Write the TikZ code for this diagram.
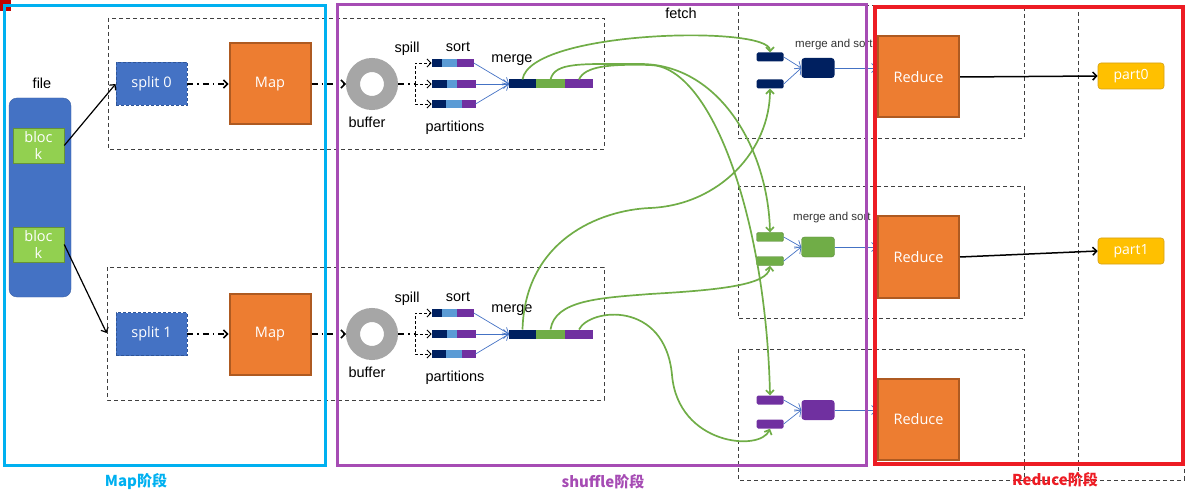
\documentclass[tikz,border=0pt]{standalone}
\usepackage{fontspec}
\setmainfont{Liberation Sans}
\newfontfamily\boxfont{Open Sans}
\newfontfamily\cjkfont{Noto Sans CJK SC}
\usepackage{xcolor}
\usepackage{tikz}
\usetikzlibrary{calc}
\usetikzlibrary{arrows.meta}
\usetikzlibrary{positioning}
\tikzset{>={Straight Barb[length=4pt,width=8pt]}}

\definecolor{navy}{HTML}{002060}
\definecolor{lblue}{HTML}{5B9BD5}
\definecolor{pviolet}{HTML}{7030A0}
\definecolor{pgreen}{HTML}{70AD47}
\definecolor{bgreen}{HTML}{92D050}
\definecolor{fblue}{HTML}{4472C4}
\definecolor{sblue}{HTML}{2F5597}
\definecolor{morange}{HTML}{ED7D31}
\definecolor{medge}{HTML}{AE5A21}
\definecolor{pyellow}{HTML}{FFC000}
\definecolor{yedge}{HTML}{D4A017}
\definecolor{mapcyan}{HTML}{00B0F0}
\definecolor{shufpurple}{HTML}{A64CB4}
\definecolor{redframe}{HTML}{ED1C24}
\definecolor{boxgray}{HTML}{404040}
\definecolor{ringgray}{HTML}{A6A6A6}

\tikzstyle{lbl} = [draw=none, inner sep=0, font=\fontsize{14.5}{16}\selectfont]
\tikzstyle{mslbl} = [draw=none, inner sep=0, anchor=west, text=black!80, font=\fontsize{11.5}{13}\selectfont]
\tikzstyle{task} = [draw=boxgray, line width=0.8pt, dash pattern=on 4pt off 3pt]
\tikzstyle{block} = [rectangle, fill=bgreen, draw=bgreen!70!black, line width=0.5pt, minimum width=51pt, minimum height=35pt, inner sep=0, align=center, text=white, font=\boxfont\fontsize{14.5}{16.5}\selectfont]
\tikzstyle{split} = [rectangle, fill=fblue, draw=sblue, densely dashed, line width=0.8pt, minimum width=71pt, minimum height=43pt, text=white, font=\boxfont\fontsize{14.5}{16}\selectfont]
\tikzstyle{work} = [rectangle, fill=morange, draw=medge, line width=2pt, minimum width=81pt, minimum height=81pt, text=white, font=\boxfont\fontsize{14.5}{16}\selectfont]
\tikzstyle{ring} = [circle, draw=ringgray, line width=14pt, minimum size=38pt, inner sep=0, fill=white]
\tikzstyle{seg} = [rectangle, inner sep=0, outer sep=0, minimum height=8pt, anchor=west]
\tikzstyle{piece} = [rectangle, rounded corners=1.5pt, inner sep=0, minimum width=27pt, minimum height=9pt]
\tikzstyle{sorted} = [rectangle, rounded corners=3pt, inner sep=0, minimum width=33pt, minimum height=20pt]
\tikzstyle{part} = [rectangle, rounded corners=3pt, fill=pyellow, draw=yedge, line width=0.6pt, minimum width=66pt, minimum height=26pt, text=white, font=\boxfont\fontsize{14}{16}\selectfont]
\tikzstyle{dd} = [->, line width=1.5pt, dash pattern=on 6pt off 4pt on 1.5pt off 4pt]
\tikzstyle{spl} = [->, line width=0.8pt, densely dashed]
\tikzstyle{blu} = [-{Straight Barb[length=5pt,width=9pt]}, draw=fblue, line width=0.7pt]
\tikzstyle{fetchln} = [->, draw=pgreen, line width=1.7pt]
\tikzstyle{stage} = [draw=none, inner sep=0, font=\cjkfont\bfseries\fontsize{15}{18}\selectfont]

\begin{document}
\begin{tikzpicture}[x=1pt, y=-1pt]
\useasboundingbox (0,0) rectangle (1194,497);
\fill[red!75!black] (0,0) rectangle (11,11);

% task boxes
\draw[task] (108,18) rectangle (604,149);
\draw[task] (107,267) rectangle (604,400);
\draw[task] (738,5) rectangle (1024,138);
\draw[task] (738,186) rectangle (1024,318);
\draw[task] (738,349) rectangle (1024,480);
\draw[task] (1078,5) rectangle (1184,480);
\draw[task] (1024,480) -- (1078,480);

% input file
\node [lbl] (file) at (42,83) {file};
\node [rectangle, rounded corners=8pt, fill=fblue, draw=fblue!85!black, minimum width=62pt, minimum height=199pt] (F) at (40,197.5) {};
\node [block] (b0) at (38.5,145.5) {bloc\\k};
\node [block] (b1) at (38.5,244.5) {bloc\\k};

% the two map tasks
\foreach \i in {0,1} {
  \pgfmathsetmacro{\y}{84+250*\i}
  \node [split] (split\i) at (151.5,\y) {split \i};
  \node [work] (map\i) at (270,\y) {Map};
  \node [ring] (buf\i) at (372,\y) {};
  \coordinate (sp\i) at (415,\y);
  \node [lbl] at (367,\y+38) {buffer};
  \node [lbl] at (407,\y-35) {spill};
  \node [lbl] at (458,\y-37) {sort};
  \node [lbl] at (512,\y-24) {merge};
  \node [lbl] at (455,\y+44) {partitions};
  \node [seg, fill=navy, minimum width=27, minimum height=9] (mn\i) at (509,\y) {};
  \node [seg, fill=pgreen, minimum width=29, minimum height=9, right=0pt of mn\i] (mg\i) {};
  \node [seg, fill=pviolet, minimum width=28, minimum height=9, right=0pt of mg\i] (mp\i) {};
  \draw [dd] (split\i.east) -- (map\i.west);
  \draw [dd] (map\i.east) -- (buf\i.west);
  \draw [dd, -] (buf\i.east) -- (sp\i);
  \foreach \k/\dy/\wa/\wb/\wc in {a/-21/10/15.3/17, b/0/15/10.6/18.4, c/20/14.3/16/13.7} {
    \node [seg, fill=navy, minimum width=\wa] (n\i\k) at (431.5,\y+\dy) {};
    \node [seg, fill=lblue, minimum width=\wb, right=0pt of n\i\k] (l\i\k) {};
    \node [seg, fill=pviolet, minimum width=\wc, right=0pt of l\i\k] (q\i\k) {};
    \draw [spl] (sp\i) |- (n\i\k.west);
    \draw [blu] (q\i\k.east) -- (mn\i.west);
  }
}
\draw [->, line width=1.2pt] (b0.east) -- (split0.west);
\draw [->, line width=1.2pt] (b1.east) -- ($(split1.west)+(-9,-1)$);

% reduce tasks
\node [piece, fill=navy] (r1a) at (770,57) {};
\node [piece, fill=navy] (r1b) at (770,84) {};
\node [sorted, fill=navy] (r1m) at (818,68) {};
\node [work] (red1) at (918.5,77) {Reduce};
\node [mslbl] at (795,45) {merge and sort};
\node [piece, fill=pgreen, draw=pgreen!80!black] (r2a) at (770,237) {};
\node [piece, fill=pgreen, draw=pgreen!80!black] (r2b) at (770,261) {};
\node [sorted, fill=pgreen, draw=pgreen!80!black] (r2m) at (818,247) {};
\node [work] (red2) at (918.5,257) {Reduce};
\node [mslbl] at (793,218) {merge and sort};
\node [piece, fill=pviolet] (r3a) at (770,400) {};
\node [piece, fill=pviolet] (r3b) at (770,424) {};
\node [sorted, fill=pviolet] (r3m) at (818,410) {};
\node [work] (red3) at (918.5,419.5) {Reduce};
\node [part] (p0) at (1131,76) {part0};
\node [part] (p1) at (1131,251) {part1};

\foreach \r in {1,2,3} {
  \draw [blu] (r\r a.east) -- (r\r m.west);
  \draw [blu] (r\r b.east) -- (r\r m.west);
  \draw [blu] (r\r m.east) -- (r\r m.east -| red\r.west);
}
\draw [->, line width=1.5pt] (red1.east) -- (p0.west);
\draw [->, line width=1.5pt] (red2.east) -- (p1.west);

% fetch
\node [lbl] (fetch) at (681,13) {fetch};
\draw [fetchln] (mn0.north) .. controls (530,30) and (770,25) .. (r1a.north);
\draw [fetchln] (mg0.north) .. controls (555,62) and (580,64) .. (640,64) .. controls (720,64) and (768,150) .. (r2a.north);
\draw [fetchln] (mp0.north) .. controls (585,66) and (610,64) .. (650,65) .. controls (712,66) and (766,220) .. (r3a.north);
\draw [fetchln] (mn1.north) .. controls (525,240) and (600,210) .. (650,208) .. controls (720,205) and (770,150) .. (r1b.south);
\draw [fetchln] (mg1.north) .. controls (555,300) and (600,298) .. (650,294) .. controls (720,290) and (768,285) .. (r2b.south);
\draw [fetchln] (mp1.north) .. controls (590,308) and (665,300) .. (672,375) .. controls (678,445) and (760,452) .. (r3b.south);

% stages
\draw [line width=3pt, mapcyan] (4,6) rectangle (325,465);
\draw [line width=3pt, shufpurple] (337,5) rectangle (866,465);
\draw [line width=4pt, redframe] (875,7) rectangle (1183,464);
\node [stage, text=mapcyan] at (136,482) {Map阶段};
\node [stage, text=shufpurple] at (603,482) {shuffle阶段};
\node [stage, text=redframe] at (1055,480) {Reduce阶段};
\end{tikzpicture}
\end{document}
